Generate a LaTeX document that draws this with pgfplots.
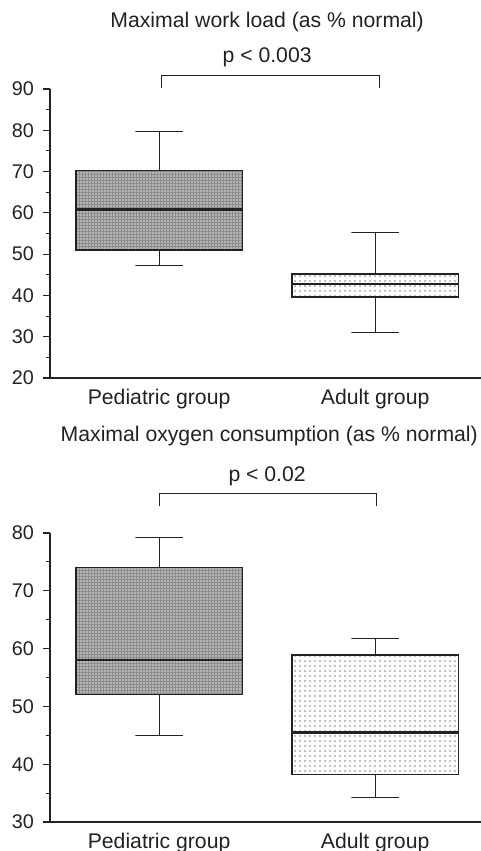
\documentclass[border=0pt]{standalone}
\usepackage{fontspec}
\setmainfont{Liberation Sans}
\usepackage{pgfplots}
\pgfplotsset{compat=1.18}
\usetikzlibrary{patterns.meta}
\definecolor{ink}{HTML}{222222}
\definecolor{pedfill}{HTML}{8C8C8C}
\definecolor{peddot}{HTML}{E2E2E2}
\definecolor{adudot}{HTML}{858585}
\pgfplotsset{
 panel/.style={
  scale only axis, width=215.5pt, height=144.5pt,
  xmin=-0.505, xmax=1.49,
  axis x line*=bottom, axis y line*=left,
  axis line style={ink, line width=0.75pt},
  xtick={0,1}, xticklabels={Pediatric group, Adult group},
  x tick style={draw=none},
  tick align=outside,
  major tick length=3.5pt, minor tick length=1.8pt,
  minor y tick num=1,
  y tick style={ink, line width=0.55pt},
  yticklabel style={font=\fontsize{9.9}{11}\selectfont, text=ink, xshift=-1pt},
  xticklabel style={font=\fontsize{10.6}{12}\selectfont, text=ink, yshift=1.5pt},
  /pgf/number format/assume math mode=true,
  clip=false,
 },
 pedbox/.style={draw=ink, line width=0.75pt, fill=pedfill,
    postaction={pattern={Dots[distance=1.5pt, radius=0.45pt]}, pattern color=peddot}},
 adubox/.style={draw=ink, line width=0.75pt, fill=white,
    postaction={pattern={Dots[distance=2.5pt, radius=0.45pt]}, pattern color=adudot}},
 whisk/.style={draw=ink, line width=0.55pt, mark=none},
 med/.style={draw=ink, line width=1.1pt, mark=none},
}
\begin{document}
\begin{tikzpicture}
\path[use as bounding box] (0,0) rectangle (240.5pt,-425.5pt);
% top panel: Maximal work load
\begin{axis}[panel, at={(25pt,-189pt)}, anchor=south west,
  ymin=20, ymax=90, ytick={20,30,...,90}]
% Pediatric: lower whisker 47.2, Q1 51.0, median 60.8, Q3 70.3, upper whisker 79.8
\addplot[whisk] coordinates {(0,70.3) (0,79.8) (-0.11,79.8) (0.11,79.8)};
\addplot[whisk] coordinates {(0,51.0) (0,47.2) (-0.11,47.2) (0.11,47.2)};
\addplot[pedbox] coordinates {(-0.385,51.0) (0.385,51.0) (0.385,70.3) (-0.385,70.3)} -- cycle;
\addplot[med] coordinates {(-0.385,60.8) (0.385,60.8)};
% Adult: lower whisker 31.0, Q1 39.6, median 42.7, Q3 45.2, upper whisker 55.2
\addplot[whisk] coordinates {(1,45.2) (1,55.2) (0.89,55.2) (1.11,55.2)};
\addplot[whisk] coordinates {(1,39.6) (1,31.0) (0.89,31.0) (1.11,31.0)};
\addplot[adubox] coordinates {(0.615,39.6) (1.385,39.6) (1.385,45.2) (0.615,45.2)} -- cycle;
\addplot[med] coordinates {(0.615,42.7) (1.385,42.7)};
\draw[ink, line width=0.6pt] (axis cs:0.01,90.2) -- (axis cs:0.01,93.2) -- (axis cs:1.02,93.2) -- (axis cs:1.02,90.2);
\node[text=ink, font=\fontsize{10.6}{12}\selectfont] at (axis cs:0.5,97.6) {p < 0.003};
\node[text=ink, font=\fontsize{10.6}{12}\selectfont] at (axis cs:0.5,106.2) {Maximal work load (as \% normal)};
\end{axis}
% bottom panel: Maximal oxygen consumption
\begin{axis}[panel, at={(25pt,-411pt)}, anchor=south west,
  ymin=30, ymax=80, ytick={30,40,...,80}]
% Pediatric: 45.0, 52.1, 58.1, 74.05, 79.2
\addplot[whisk] coordinates {(0,74.05) (0,79.2) (-0.11,79.2) (0.11,79.2)};
\addplot[whisk] coordinates {(0,52.1) (0,45.0) (-0.11,45.0) (0.11,45.0)};
\addplot[pedbox] coordinates {(-0.385,52.1) (0.385,52.1) (0.385,74.05) (-0.385,74.05)} -- cycle;
\addplot[med] coordinates {(-0.385,58.1) (0.385,58.1)};
% Adult: 34.3, 38.2, 45.5, 58.9, 61.7
\addplot[whisk] coordinates {(1,58.9) (1,61.7) (0.89,61.7) (1.11,61.7)};
\addplot[whisk] coordinates {(1,38.2) (1,34.3) (0.89,34.3) (1.11,34.3)};
\addplot[adubox] coordinates {(0.615,38.2) (1.385,38.2) (1.385,58.9) (0.615,58.9)} -- cycle;
\addplot[med] coordinates {(0.615,45.5) (1.385,45.5)};
\draw[ink, line width=0.6pt] (axis cs:0,84.7) -- (axis cs:0,86.9) -- (axis cs:1.005,86.9) -- (axis cs:1.005,84.7);
\node[text=ink, font=\fontsize{10.6}{12}\selectfont] at (axis cs:0.5,89.9) {p < 0.02};
\node[text=ink, font=\fontsize{10.6}{12}\selectfont] at (axis cs:0.51,96.8) {Maximal oxygen consumption (as \% normal)};
\end{axis}
\end{tikzpicture}
\end{document}
